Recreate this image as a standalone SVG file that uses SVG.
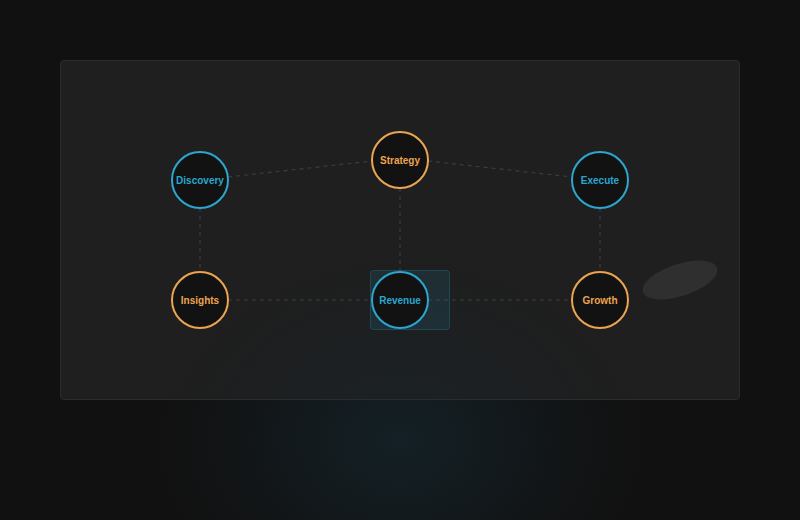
<svg xmlns="http://www.w3.org/2000/svg" width="800" height="520" viewBox="0 0 800 520">
<defs>
<radialGradient id="glow" cx="400" cy="440" r="300" gradientUnits="userSpaceOnUse" gradientTransform="translate(400 440) scale(0.9 0.7) translate(-400 -440)">
<stop offset="0" stop-color="#15262d" stop-opacity="0.75"/>
<stop offset="0.5" stop-color="#14222a" stop-opacity="0.35"/>
<stop offset="1" stop-color="#111111" stop-opacity="0"/>
</radialGradient>
<style>
.edge{stroke:#3c3c3c;stroke-width:1.2;stroke-dasharray:4 4;fill:none}
.node circle{fill:#121212;stroke-width:2}
.cyan circle{stroke:#2aa6cf}
.orange circle{stroke:#eda450}
.node text{font-family:"Liberation Sans",Arial,sans-serif;font-size:10px;font-weight:bold;text-anchor:middle;dominant-baseline:central}
.cyan text{fill:#2aa6cf}
.orange text{fill:#eda450}
</style>
</defs>
<rect x="0" y="0" width="800" height="520" fill="#111111"/>
<rect x="0" y="200" width="800" height="320" fill="url(#glow)"/>
<rect x="60.5" y="60.5" width="679" height="339" rx="3" fill="#1f1f1f" stroke="#2c2c2c" stroke-width="1"/>
<rect x="61" y="200" width="678" height="199" fill="url(#glow)" opacity="0.6"/>
<ellipse cx="680" cy="280" rx="39" ry="16" transform="rotate(-18 680 280)" fill="#2f2f2f"/>
<g id="connectors">
<line class="edge" x1="228" y1="177" x2="372" y2="161"/>
<line class="edge" x1="428" y1="161" x2="572" y2="177"/>
<line class="edge" x1="200" y1="208" x2="200" y2="272"/>
<line class="edge" x1="400" y1="188" x2="400" y2="272"/>
<line class="edge" x1="600" y1="208" x2="600" y2="272"/>
<line class="edge" x1="228" y1="300" x2="372" y2="300"/>
<line class="edge" x1="428" y1="300" x2="572" y2="300"/>
</g>
<rect id="highlight" x="370.5" y="270.5" width="79" height="59" rx="3" fill="#2aa6cf" fill-opacity="0.12" stroke="#2aa6cf" stroke-opacity="0.25"/>
<g id="discovery" class="node cyan"><circle cx="200" cy="180" r="28"/><text x="200" y="180">Discovery</text></g>
<g id="strategy" class="node orange"><circle cx="400" cy="160" r="28"/><text x="400" y="160">Strategy</text></g>
<g id="execute" class="node cyan"><circle cx="600" cy="180" r="28"/><text x="600" y="180">Execute</text></g>
<g id="insights" class="node orange"><circle cx="200" cy="300" r="28"/><text x="200" y="300">Insights</text></g>
<g id="revenue" class="node cyan"><circle cx="400" cy="300" r="28"/><text x="400" y="300">Revenue</text></g>
<g id="growth" class="node orange"><circle cx="600" cy="300" r="28"/><text x="600" y="300">Growth</text></g>
</svg>
